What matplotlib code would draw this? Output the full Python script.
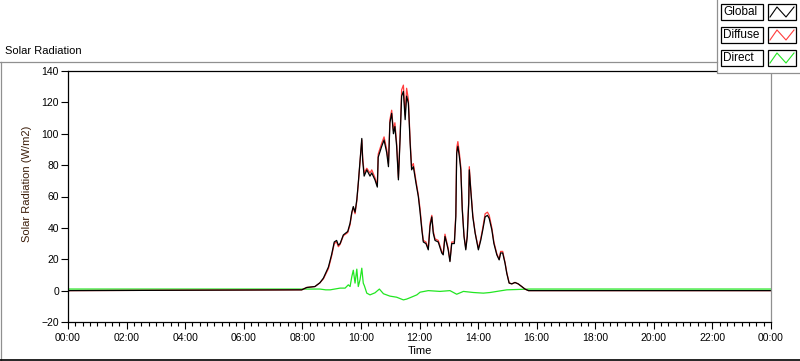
# -*- coding: utf-8 -*-

"""Solar radiation over one day: global, diffuse and direct."""

import matplotlib
matplotlib.use('Agg')
import matplotlib.pyplot as plt
from matplotlib.patches import Rectangle
from matplotlib.ticker import FuncFormatter, MultipleLocator

# time of day in hours
hours = [
    0.00, 7.98, 8.15, 8.43, 8.60, 8.72, 8.89, 9.00, 9.09, 9.17,
    9.23, 9.29, 9.40, 9.55, 9.63, 9.69, 9.74, 9.80, 9.86, 9.91,
    10.03, 10.06, 10.11, 10.20, 10.31, 10.37, 10.48, 10.56, 10.59, 10.71,
    10.79, 10.88, 10.94, 10.99, 11.05, 11.11, 11.16, 11.22, 11.28, 11.34,
    11.39, 11.45, 11.51, 11.56, 11.62, 11.68, 11.73, 11.79, 11.88, 11.96,
    12.02, 12.08, 12.13, 12.22, 12.30, 12.36, 12.42, 12.47, 12.53, 12.64,
    12.76, 12.81, 12.87, 12.93, 12.98, 13.04, 13.10, 13.19, 13.24, 13.27,
    13.31, 13.36, 13.41, 13.46, 13.52, 13.58, 13.63, 13.68, 13.70, 13.75,
    13.82, 13.90, 14.01, 14.09, 14.16, 14.24, 14.32, 14.38, 14.47, 14.54,
    14.64, 14.72, 14.77, 14.84, 14.92, 14.98, 15.06, 15.15, 15.26, 15.37,
    15.49, 15.60, 15.72, 24.00,
]

# global radiation (W/m2)
global_wm2 = [
    0, 0.5, 2, 2.6, 5, 8, 15, 23, 31, 32,
    29, 30, 35.5, 37.7, 43, 50, 53.6, 50, 58, 68.5,
    97, 83, 73, 77, 73, 75, 70.6, 66, 85, 92,
    96, 88, 79, 107, 113, 100, 104.6, 92, 70.6, 98,
    124, 127, 109, 124, 119.5, 94, 77, 79, 68.5, 60,
    50, 38.7, 31, 30, 26, 41, 47, 36.6, 32, 31,
    24, 22.8, 34.5, 30, 26, 18.5, 30, 30, 47, 87.6,
    92, 85.5, 77, 51.5, 34.5, 26, 34.5, 55.8, 77, 64,
    47, 36.6, 26, 32, 38.7, 47, 48, 46, 38.7, 30,
    22.8, 19.6, 24, 24, 17.5, 11, 4.8, 4.3, 5.2, 4.3,
    2.6, 1, 0, 0,
]

# diffuse radiation (W/m2)
diffuse_wm2 = [
    0, 0.5, 2, 2.6, 5, 7.5, 14, 22, 30, 31,
    28, 29.5, 35, 37, 42, 49.5, 53, 49, 57, 68,
    96, 85, 75, 78, 75, 77, 72, 67, 87, 94,
    98, 90, 81, 109, 115, 102, 107, 94, 72, 100,
    128, 131, 112, 129, 122, 96, 79, 81, 70, 61,
    52, 40, 32, 31, 27, 43, 48, 38, 33, 32,
    25, 23.5, 36, 31, 27, 19, 31, 31, 49, 91,
    95, 88, 79, 53, 35, 27, 35, 57, 79, 65,
    48, 37, 27, 33, 40, 49, 50, 48, 40, 31,
    23.5, 20, 25, 25, 18, 11.5, 5, 4.3, 5.2, 4.3,
    2.6, 1, 0, 0,
]

# direct radiation (W/m2) has its own time points
direct_hours = [
    0.00, 8.60, 8.80, 8.95, 9.29, 9.46, 9.57, 9.63, 9.69, 9.74,
    9.80, 9.86, 9.91, 9.97, 10.03, 10.08, 10.12, 10.20, 10.31, 10.48,
    10.63, 10.77, 10.99, 11.22, 11.45, 11.56, 11.68, 11.91, 12.02, 12.30,
    12.70, 13.04, 13.27, 13.50, 13.84, 14.18, 14.41, 14.64, 14.98, 15.77,
    24.00,
]
direct_wm2 = [
    1.0, 1.0, 0.5, 0.5, 1.6, 1.6, 3.7, 2.6, 9, 13,
    4.8, 13.7, 2.6, 7, 14.3, 4.8, 3, -1.6, -2.7, -1.4,
    1, -2, -3.5, -4.2, -5.9, -5.4, -4.5, -2.7, -1, 0,
    -0.5, 0, -2.3, -0.5, -1.2, -1.6, -1.2, -0.5, 0.5, 1,
    1,
]

series_names = ['Global', 'Diffuse', 'Direct']
series_colors = ['black', '#ff3c3c', '#22e622']

W, H = 800, 361
FRAME_GREY = '#909090'

plt.rcParams['font.family'] = ['Liberation Sans', 'DejaVu Sans']

fig = plt.figure(figsize=(W / 100, H / 100), dpi=100)

# plot area, placed in pixels
ax = fig.add_axes([68 / W, 1 - 322 / H, (771 - 68) / W, (322 - 71) / H])
ax.plot(direct_hours, direct_wm2, color=series_colors[2], lw=0.9)
ax.plot(hours, diffuse_wm2, color=series_colors[1], lw=0.9)
ax.plot(hours, global_wm2, color=series_colors[0], lw=0.9)

ax.set_xlim(0, 24)
ax.set_ylim(-20, 140)
ax.xaxis.set_major_locator(MultipleLocator(2))
ax.xaxis.set_minor_locator(MultipleLocator(0.25))
ax.xaxis.set_major_formatter(
    FuncFormatter(lambda v, p: '%02d:00' % (int(round(v)) % 24)))
ax.yaxis.set_major_locator(MultipleLocator(20))
ax.tick_params(axis='both', which='major', direction='out', length=5,
               width=0.8, labelsize=7.5, pad=1.5)
ax.tick_params(axis='x', which='major', pad=3)
ax.tick_params(axis='x', which='minor', direction='out', length=3, width=0.8)

for side in ['left', 'bottom', 'top']:
    ax.spines[side].set_color('black')
    ax.spines[side].set_linewidth(0.9)
ax.spines['right'].set_color(FRAME_GREY)
ax.spines['right'].set_linewidth(0.9)

ax.set_xlabel('Time', fontsize=8, labelpad=2)
ax.set_ylabel('Solar Radiation (W/m2)', fontsize=8, color='#3c1e0a')
ax.yaxis.set_label_coords(-0.051, 0.55)

# overlay in pixel units for the panel frame and the legend
ov = fig.add_axes([0, 0, 1, 1], zorder=5)
ov.set_xlim(0, W)
ov.set_ylim(H, 0)
ov.axis('off')
ov.patch.set_alpha(0)

ov.plot([0, 717], [62, 62], color=FRAME_GREY, lw=0.9)
ov.plot([1, 1], [62, 361], color=FRAME_GREY, lw=0.9)
ov.plot([0, 800], [360, 360], color='black', lw=1.2)
ov.text(5, 51, 'Solar Radiation', fontsize=8, va='center', ha='left')

ov.add_patch(Rectangle((717, 0), 83, 72.5, facecolor='white',
                       edgecolor='none'))
ov.plot([717, 717, 800], [0, 72.5, 72.5], color=FRAME_GREY, lw=0.9)

for i, (name, color) in enumerate(zip(series_names, series_colors)):
    top = 3.5 + i * 23
    ov.add_patch(Rectangle((721, top), 42, 16, facecolor='white',
                           edgecolor='black', lw=0.9))
    ov.text(723.5, top + 8.5, name, fontsize=8.5, va='center', ha='left')
    ov.add_patch(Rectangle((768, top), 28, 16, facecolor='white',
                           edgecolor='black', lw=0.9))
    ov.plot([770, 777, 786, 794],
            [top + 13.5, top + 3.5, top + 13.5, top + 3.5],
            color=color, lw=0.8)

fig.savefig('out.png', dpi=100)
